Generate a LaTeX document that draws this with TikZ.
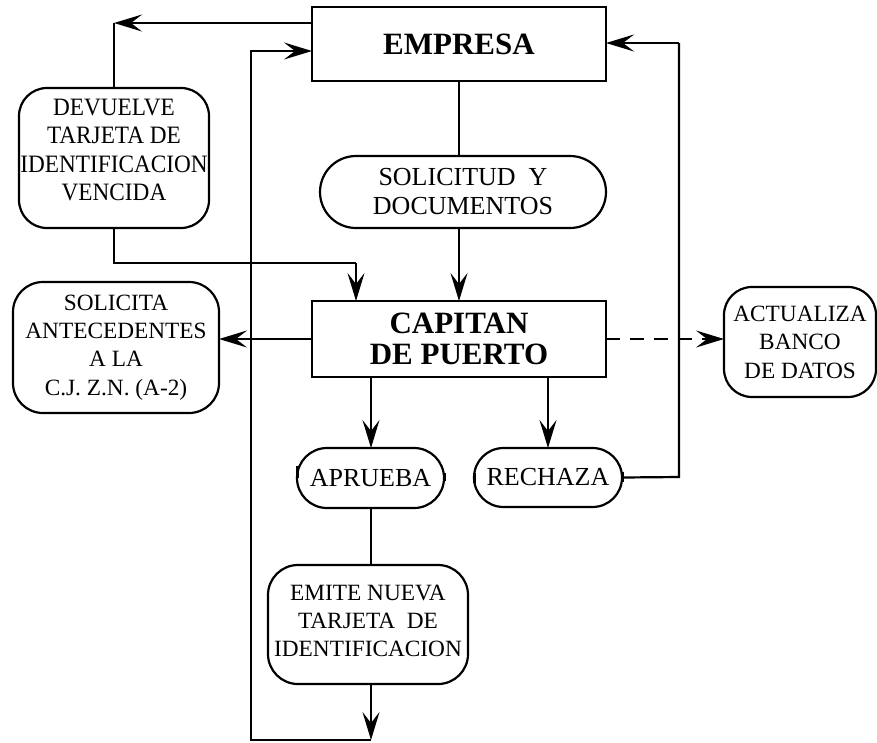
\documentclass[tikz,border=0pt]{standalone}
\usepackage{fontspec}
\setmainfont{Liberation Serif}
\newfontfamily\condfam[FakeStretch=0.93]{Liberation Serif}
\usetikzlibrary{arrows.meta}
\tikzset{
  every node/.style={inner sep=0pt, outer sep=0pt},
  lw/.style={line width=2.2pt},
  arr/.style={lw, -{Stealth[length=28pt, width=17pt, inset=11pt]}},
  txt/.style={align=center, font=\fontsize{23.3}{28.4}\selectfont},
  bigtxtA/.style={align=center, font=\fontsize{26}{29}\selectfont},
  condtxt/.style={align=center, font=\condfam\fontsize{25}{28.5}\selectfont},
  bigtxt/.style={align=center, font=\fontsize{31}{31}\selectfont\bfseries},
  sqbox/.style={draw, lw, rectangle},
  rbox/.style={draw, lw, rectangle, rounded corners=#1},
  tick/.style={line width=3pt},
}
\begin{document}
\begin{tikzpicture}[x=1pt, y=-1pt]
\useasboundingbox (0,0) rectangle (877,742);
% boxes
\node[sqbox, bigtxt, minimum width=294pt, minimum height=74pt] (empresa) at (459,44) {EMPRESA};
\node[rbox=28pt, minimum width=190pt, minimum height=140pt] (devuelve) at (114,158) {};
\node[condtxt] (devuelvetxt) at (114,150) {DEVUELVE\\TARJETA DE\\IDENTIFICACION\\VENCIDA};
\node[rbox=36pt, bigtxtA, minimum width=286pt, minimum height=72pt] (solicitud) at (463,192) {SOLICITUD\ \ Y\\DOCUMENTOS};
\node[sqbox, bigtxt, minimum width=294pt, minimum height=76pt] (capitan) at (459,339) {CAPITAN\\DE PUERTO};
\node[rbox=30pt, txt, minimum width=206pt, minimum height=131pt] (solicita) at (116,347.5) {SOLICITA\\ANTECEDENTES\\A LA\\C.J. Z.N. (A-2)};
\node[rbox=28pt, txt, minimum width=152pt, minimum height=110pt] (actualiza) at (800,342) {ACTUALIZA\\BANCO\\DE DATOS};
\node[rbox=30pt, bigtxtA, minimum width=147pt, minimum height=60pt] (aprueba) at (370.5,478) {APRUEBA};
\node[rbox=29.5pt, bigtxtA, minimum width=148pt, minimum height=59pt] (rechaza) at (548,477.5) {RECHAZA};
\node[rbox=30pt, minimum width=200pt, minimum height=119pt] (emite) at (368,624.5) {};
\node[txt] (emitetxt) at (368,621) {EMITE NUEVA\\TARJETA\ \ DE\\IDENTIFICACION};
% helper coordinates
\coordinate (c1) at (114,23);
\coordinate (c2) at (114,263);
\coordinate (c3) at (356,263);
\coordinate (bot) at (371,740);
\coordinate (bl) at (251,740);
\coordinate (tl) at (251,51);
\coordinate (rr) at (679,477);
\coordinate (rt) at (679,43);
% connectors
\draw[arr] (empresa.west |- c1) -- (c1);
\draw[lw] (c1) -- (devuelve.north);
\draw[lw] (devuelve.south) -- (c2) -- (c3);
\draw[arr] (c3) -- (c3 |- capitan.north);
\draw[arr] (bot |- emite.south) -- (bot);
\draw[arr] (bot) -- (bl) -- (tl) -- (empresa.west |- tl);
\draw[lw] (empresa.south) -- (empresa.south |- solicitud.north);
\draw[arr] (empresa.south |- solicitud.south) -- (capitan.north);
\draw[arr] (capitan.west) -- (solicita.east |- capitan.west);
\draw[arr, dash pattern=on 14pt off 10pt] (capitan.east) -- (actualiza.west |- capitan.east);
\draw[arr] (bot |- capitan.south) -- (bot |- aprueba.north);
\draw[arr] (rechaza.north |- capitan.south) -- (rechaza.north);
\draw[lw] (rechaza.east) -- (rr) -- (rt);
\draw[arr] (rt) -- (empresa.east |- rt);
\draw[lw] (bot |- aprueba.south) -- (bot |- emite.north);
% small ticks at the ends of the rounded boxes
\draw[tick] (aprueba.west) ++(0,-12) -- ++(0,12);
\draw[tick] (aprueba.east) ++(0,-5) -- ++(0,8);
\draw[tick] (rechaza.west) ++(0,-5) -- ++(0,10);
\draw[tick] (rechaza.east) ++(0,-6) -- ++(0,10);
\end{tikzpicture}
\end{document}
